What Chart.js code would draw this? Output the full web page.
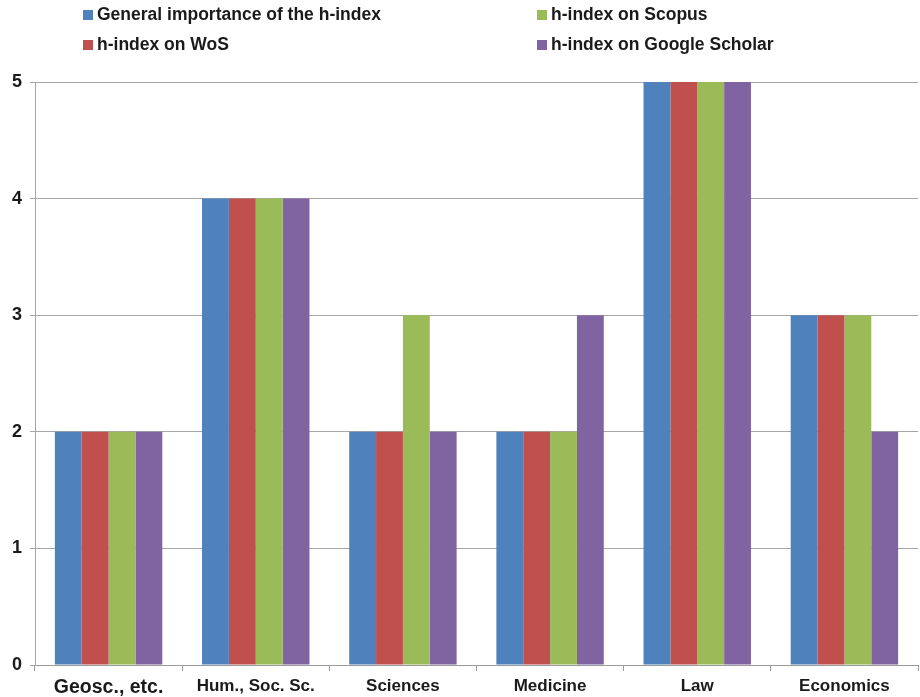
<!DOCTYPE html>
<html>
<head>
<meta charset="utf-8">
<script src="https://cdn.jsdelivr.net/npm/chart.js@4/dist/chart.umd.min.js"></script>
<style>
  body { margin: 0; background: #fff; }
  .wrap { position: relative; width: 920px; height: 697px; }
  canvas { position: absolute; left: 0; top: 0; }
  .legend-item {
    position: absolute;
    font: bold 17.5px "Liberation Sans", Arial, sans-serif;
    color: #1a1a1a;
    white-space: nowrap;
    line-height: 20px;
  }
  .legend-item span {
    display: inline-block;
    width: 10px;
    height: 10px;
    margin-right: 4px;
  }
</style>
</head>
<body>
<div class="wrap">
  <canvas id="myChart" width="920" height="697"></canvas>
  <div id="legend"></div>
</div>
<script>
const categories = ["Geosc., etc.", "Hum., Soc. Sc.", "Sciences", "Medicine", "Law", "Economics"];
const seriesNames = ["General importance of the h-index", "h-index on WoS", "h-index on Scopus", "h-index on Google Scholar"];
const generalValues = [2, 4, 2, 2, 5, 3];
const wosValues = [2, 4, 2, 2, 5, 3];
const scopusValues = [2, 4, 3, 2, 5, 3];
const scholarValues = [2, 4, 2, 3, 5, 2];
const yTicks = [0, 1, 2, 3, 4, 5];

const colors = ["#4F81BD", "#C0504D", "#9BBB59", "#8064A2"];
const allValues = [generalValues, wosValues, scopusValues, scholarValues];

// legend in two columns: general / WoS on the left, Scopus / Scholar on the right
const legendPos = [[83, 4], [83, 34], [537, 4], [537, 34]];
const legendEl = document.getElementById("legend");
seriesNames.forEach((name, i) => {
    const item = document.createElement("div");
    item.className = "legend-item";
    item.style.left = legendPos[i][0] + "px";
    item.style.top = legendPos[i][1] + "px";
    item.innerHTML = '<span style="background:' + colors[i] + '"></span>' + name;
    legendEl.appendChild(item);
});

const fontFamily = "'Liberation Sans', Arial, sans-serif";

const ctx = document.getElementById("myChart").getContext("2d");
const myChart = new Chart(ctx, {
    type: "bar",
    data: {
        labels: categories,
        datasets: allValues.map((vals, i) => ({
            label: seriesNames[i],
            data: vals,
            backgroundColor: colors[i],
            borderWidth: 0,
            categoryPercentage: 0.73,
            barPercentage: 1.0,
        })),
    },
    options: {
        responsive: false,
        animation: false,
        layout: { padding: { top: 82, right: 2, left: 0, bottom: 0 } },
        plugins: {
            legend: { display: false },
            tooltip: { enabled: false },
        },
        scales: {
            x: {
                grid: { drawOnChartArea: false, drawTicks: true, tickLength: 6, color: "#9a9a9a", offset: true },
                border: { color: "#9a9a9a", width: 1 },
                ticks: {
                    color: "#1a1a1a",
                    padding: 5,
                    font: (c) => c.index === 0
                        ? { family: fontFamily, size: 19.5, weight: "bold" }
                        : { family: fontFamily, size: 17, weight: "bold" },
                },
                afterFit: (scale) => { scale.height = 32; },
            },
            y: {
                min: 0,
                max: 5,
                afterBuildTicks: (scale) => { scale.ticks = yTicks.map((v) => ({ value: v })); },
                grid: { color: "#a6a6a6", lineWidth: 1, tickLength: 5 },
                border: { color: "#a6a6a6", width: 1 },
                ticks: {
                    color: "#1a1a1a",
                    padding: 8,
                    font: { family: fontFamily, size: 18, weight: "bold" },
                },
                afterFit: (scale) => { scale.width = 35; },
            },
        },
    },
});
</script>
</body>
</html>
